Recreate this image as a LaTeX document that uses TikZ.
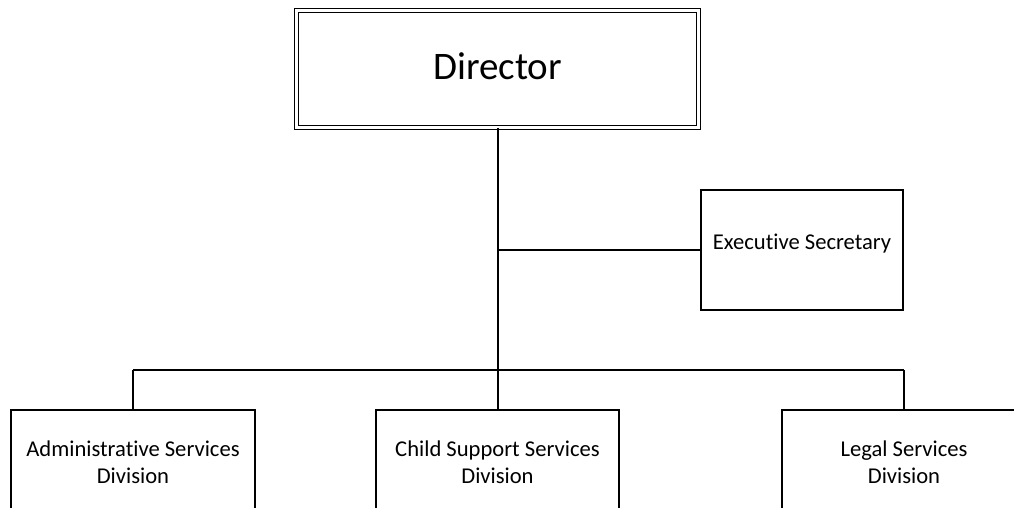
\documentclass[tikz,border=0pt]{standalone}
\usepackage{fontspec}
\setmainfont{Carlito}[Ligatures={NoCommon}]
\begin{document}
\begin{tikzpicture}[x=1pt,y=-1pt,
  box/.style={draw=black, line width=1.7pt, rectangle, inner sep=0pt, outer sep=0pt, align=center, font=\fontsize{22.6}{27}\selectfont},
  dirbox/.style={draw=black, double=white, line width=1.3pt, double distance=2.4pt, rectangle, inner sep=0pt, outer sep=0pt, font=\fontsize{39}{45}\selectfont},
  conn/.style={draw=black, line width=1.4pt}]
\clip (0,0) rectangle (1014,507);
\fill[white] (0,0) rectangle (1014,507);
\node[dirbox, minimum width=402pt, minimum height=117pt, text depth=6pt] (dir) at (497.5,69) {Director};
\node[box, minimum width=202pt, minimum height=120pt, text depth=17pt] (exec) at (802,250) {Executive Secretary};
\node[box, minimum width=244pt, minimum height=104pt] (adm) at (133,462) {Administrative Services\\Division};
\node[box, minimum width=243pt, minimum height=104pt] (csd) at (497.5,462) {Child Support Services\\Division};
\node[box, minimum width=244pt, minimum height=104pt] (leg) at (904,462) {Legal Services\\Division};
\coordinate (bar) at (498,370);
\coordinate (mid) at (498,250);
\draw[conn] (dir.south -| bar) -- (bar);
\draw[conn] (mid) -- (exec.west);
\draw[conn] (bar -| adm.north) -- (bar -| leg.north);
\draw[conn] (bar -| adm.north) -- (adm.north);
\draw[conn] (bar) -- (csd.north -| bar);
\draw[conn] (bar -| leg.north) -- (leg.north);
\end{tikzpicture}
\end{document}
